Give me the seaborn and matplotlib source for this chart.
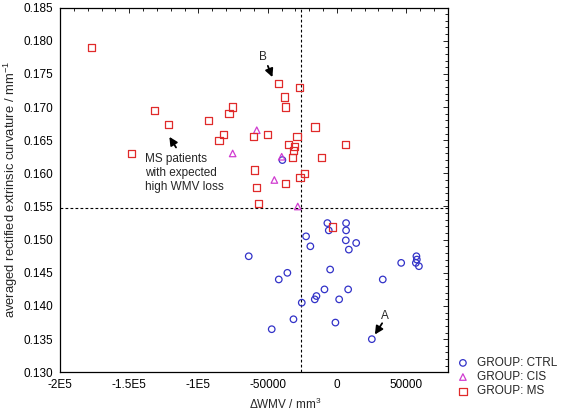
import matplotlib
matplotlib.use("Agg")
import matplotlib.pyplot as plt
import seaborn as sns
import pandas as pd
from matplotlib.ticker import FixedLocator, FixedFormatter, MultipleLocator, FormatStrFormatter

# ---------------- data ----------------
ctrl_x = [-39400, -6900, 6600, -5900, 6600, -22300, 6400, 13900, -19200, 8600,
          -63700, 46400, 57400, 57700, 57000, 59200, -4900, -35800, -42000, 33100,
          -9000, 8100, -14800, -16000, 1600, -25400, -31400, -1100, -47100, 25200]
ctrl_y = [0.1620, 0.1525, 0.1525, 0.1514, 0.1514, 0.1505, 0.1499, 0.1495, 0.1490, 0.1485,
          0.1475, 0.1465, 0.1475, 0.1470, 0.1465, 0.1460, 0.1455, 0.1450, 0.1440, 0.1440,
          0.1425, 0.1425, 0.1415, 0.1410, 0.1410, 0.1405, 0.1380, 0.1375, 0.1365, 0.1350]

cis_x = [-57900, -75300, -45200, -39900, -28300]
cis_y = [0.1665, 0.1630, 0.1590, 0.1625, 0.1550]

ms_x = [-177100, -148500, -131900, -121500, -92900, -85100, -82200, -77900, -75500, -60000,
        -59600, -57900, -50200, -42300, -37600, -37200, -35000, -32200, -37200, -30700,
        -31400, -28800, -27300, -26600, -23600, -56700, -15800, 6400, -11200, -3000]
ms_y = [0.1790, 0.1630, 0.1695, 0.1674, 0.1680, 0.1650, 0.1659, 0.1690, 0.1700, 0.1655,
        0.1605, 0.1579, 0.1659, 0.1735, 0.1715, 0.1700, 0.1644, 0.1624, 0.1585, 0.1640,
        0.1634, 0.1655, 0.1730, 0.1594, 0.1600, 0.1554, 0.1670, 0.1644, 0.1624, 0.1519]

groups = ["CTRL", "CIS", "MS"]
group_labels = ["GROUP: CTRL", "GROUP: CIS", "GROUP: MS"]

x_ticks = [-200000, -150000, -100000, -50000, 0, 50000]
x_tick_labels = ["-2E5", "-1.5E5", "-1E5", "-50000", "0", "50000"]

ref_x = -26300
ref_y = 0.1548

# ---------------- style ----------------
sns.set_style("white")
plt.rcParams["font.family"] = ["Liberation Sans", "DejaVu Sans"]
plt.rcParams["mathtext.fontset"] = "custom"
plt.rcParams["mathtext.rm"] = "Liberation Sans"
plt.rcParams["mathtext.it"] = "Liberation Sans:italic"
plt.rcParams["font.size"] = 8.5

df = pd.concat([
    pd.DataFrame({"x": ctrl_x, "y": ctrl_y, "group": "CTRL"}),
    pd.DataFrame({"x": cis_x, "y": cis_y, "group": "CIS"}),
    pd.DataFrame({"x": ms_x, "y": ms_y, "group": "MS"}),
], ignore_index=True)

colors = {"CTRL": "#3232C8", "CIS": "#D03CD0", "MS": "#E02A2A"}
markers = {"CTRL": "o", "CIS": "^", "MS": "s"}
sizes = {"CTRL": 22, "CIS": 22, "MS": 27}

fig = plt.figure(figsize=(5.65, 4.13), dpi=100)
ax = fig.add_axes([0.1062, 0.0985, 0.6862, 0.8833])

for g, lab in zip(groups, group_labels):
    sub = df[df["group"] == g]
    sns.scatterplot(data=sub, x="x", y="y", ax=ax, marker=markers[g], s=sizes[g],
                    color=colors[g], facecolors="none", edgecolor=colors[g],
                    linewidths=0.9, label=lab, legend=False)

ax.axvline(ref_x, color="black", lw=0.8, ls=(0, (2.5, 2)), zorder=0)
ax.axhline(ref_y, color="black", lw=0.8, ls=(0, (2.5, 2)), zorder=0)

ax.set_xlim(-200000, 80000)
ax.set_ylim(0.130, 0.185)

ax.xaxis.set_major_locator(FixedLocator(x_ticks))
ax.xaxis.set_major_formatter(FixedFormatter(x_tick_labels))
ax.xaxis.set_minor_locator(MultipleLocator(10000))
ax.yaxis.set_major_locator(MultipleLocator(0.005))
ax.yaxis.set_major_formatter(FormatStrFormatter("%.3f"))
ax.yaxis.set_minor_locator(MultipleLocator(0.001))

ax.tick_params(which="both", direction="in", top=True, right=True,
               width=0.6, colors="black", labelsize=8.5)
ax.tick_params(which="major", length=3.5, pad=5)
ax.tick_params(which="minor", length=2)
for sp in ax.spines.values():
    sp.set_visible(True)
    sp.set_color("black")
    sp.set_linewidth(0.9)

ax.set_xlabel(r"$\Delta$WMV / mm$^{3}$", fontsize=8.5)
ax.set_ylabel(r"averaged rectified extrinsic curvature / mm$^{-1}$", fontsize=9.4)
ax.xaxis.set_label_coords(0.58, -0.066)
ax.yaxis.set_label_coords(-0.103, 0.5)

arrow = dict(arrowstyle="-|>", color="black", lw=1.3, mutation_scale=12,
             shrinkA=0, shrinkB=0)
ax.text(-53600, 0.1776, "B", ha="center", va="center", fontsize=8.5)
ax.annotate("", xy=(-46600, 0.1745), xytext=(-49900, 0.1762), arrowprops=arrow)
ax.text(35000, 0.1385, "A", ha="center", va="center", fontsize=8.5)
ax.annotate("", xy=(27400, 0.1357), xytext=(32650, 0.1374), arrowprops=arrow)
ax.annotate("", xy=(-121000, 0.1655), xytext=(-116200, 0.1639), arrowprops=arrow)
ax.text(-138400, 0.1630, "MS patients\nwith expected\nhigh WMV loss",
        ha="left", va="top", fontsize=8.5, linespacing=1.2)

leg = fig.legend(*ax.get_legend_handles_labels(), loc="upper left",
                 bbox_to_anchor=(457 / 565, 1 - 357 / 413), frameon=False,
                 handlelength=1.0, handletextpad=0.7, borderpad=0,
                 borderaxespad=0, labelspacing=0.18, fontsize=8.5)

fig.savefig("out.png", dpi=100)
